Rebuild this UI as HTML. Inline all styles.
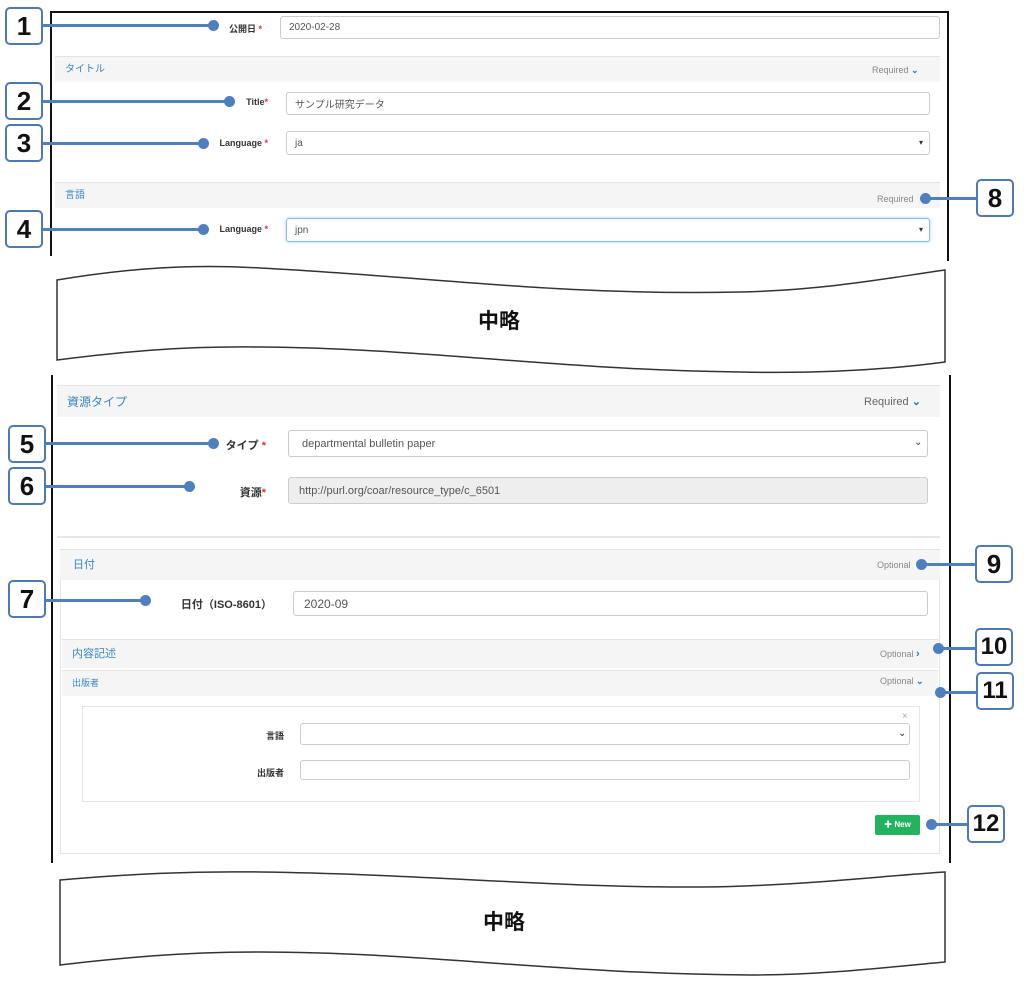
<!DOCTYPE html>
<html><head><meta charset="utf-8">
<style>
*{margin:0;padding:0;box-sizing:border-box}
body{width:1024px;height:987px;background:#fff;position:relative;overflow:hidden;font-family:"Liberation Sans","Noto Sans CJK JP",sans-serif;color:#333}
.a{position:absolute}
.hdr{position:absolute;background:#f5f5f5;border-top:1px solid #e3e3e3;color:#3a87c0;font-size:10px;padding-left:10px}
.inp{position:absolute;border:1px solid #ccc;border-radius:3px;background:#fff;font-size:10px;color:#555;padding-left:8px;display:flex;align-items:center}
.lbl{position:absolute;font-size:9px;font-weight:bold;color:#333;text-align:right}
.st{color:#d33}
.req{position:absolute;font-size:9px;color:#888}
.box{position:absolute;width:38px;height:38px;border:2.5px solid #4e79b6;border-radius:5px;background:#fff;font-size:26px;font-weight:bold;color:#111;display:flex;align-items:center;justify-content:center}
.ln{position:absolute;height:3px;background:#4e7fbf}
.dot{position:absolute;width:11px;height:11px;border-radius:50%;background:#4e7fbf}
.car{position:absolute;font-size:8px;color:#333}
</style></head><body>

<!-- frame top -->
<div class="a" style="left:50px;top:11px;width:899px;height:2px;background:#111"></div>
<div class="a" style="left:50px;top:11px;width:2px;height:245px;background:#111"></div>
<div class="a" style="left:947px;top:11px;width:2px;height:250px;background:#111"></div>

<div class="lbl" style="left:200px;top:22px;width:62px">公開日 <span class="st">*</span></div>
<div class="inp" style="left:280px;top:16px;width:660px;height:23px">2020-02-28</div>

<div class="hdr" style="left:55px;top:56px;width:885px;height:26px;line-height:26px">タイトル</div>
<div class="req" style="left:872px;top:65px">Required <span style="color:#2a7ab8;font-weight:bold">⌄</span></div>
<div class="lbl" style="left:200px;top:97px;width:68px">Title<span class="st">*</span></div>
<div class="inp" style="left:286px;top:92px;width:644px;height:23px">サンプル研究データ</div>
<div class="lbl" style="left:200px;top:138px;width:68px">Language <span class="st">*</span></div>
<div class="inp" style="left:286px;top:131px;width:644px;height:24px">ja</div>
<div class="car" style="left:919px;top:138px">▾</div>

<div class="hdr" style="left:55px;top:182px;width:885px;height:26px;line-height:26px">言語</div>
<div class="req" style="left:877px;top:194px">Required</div>
<div class="lbl" style="left:200px;top:224px;width:68px">Language <span class="st">*</span></div>
<div class="inp" style="left:286px;top:218px;width:644px;height:24px;border-color:#8bbbe8;box-shadow:0 0 3px #a8cff0">jpn</div>
<div class="car" style="left:919px;top:225px">▾</div>

<!-- wave 1 -->
<svg class="a" style="left:0;top:0" width="1024" height="987">
<path d="M57,280 C130,268 190,264 260,268 C420,276 560,296 740,292 C830,290 900,276 945,270 L945,362 C900,368 830,374 740,372 C560,370 420,348 260,347 C180,346 120,352 57,360 Z" fill="#fff" stroke="#333" stroke-width="1.5"/>
<path d="M60,880 C130,874 190,871 260,872 C420,874 560,888 700,887 C800,886 880,876 945,872 L945,962 C880,968 820,975 750,975 C560,974 420,952 260,952 C180,952 120,958 60,965 Z" fill="#fff" stroke="#333" stroke-width="1.5"/>
</svg>
<div class="a" style="left:478px;top:305px;font-size:21px;font-weight:bold;color:#111">中略</div>
<div class="a" style="left:483px;top:906px;font-size:21px;font-weight:bold;color:#111">中略</div>

<!-- frame 2 -->
<div class="a" style="left:51px;top:375px;width:2px;height:488px;background:#111"></div>
<div class="a" style="left:949px;top:375px;width:2px;height:488px;background:#111"></div>

<div class="hdr" style="left:57px;top:385px;width:883px;height:32px;line-height:32px;font-size:12px">資源タイプ</div>
<div class="req" style="left:864px;top:395px;font-size:11px;color:#666">Required <span style="color:#2a7ab8;font-weight:bold">⌄</span></div>
<div class="lbl" style="left:200px;top:437px;width:66px;font-size:11px">タイプ <span class="st">*</span></div>
<div class="inp" style="left:288px;top:430px;width:640px;height:27px;font-size:11px;padding-left:13px">departmental bulletin paper</div>
<div class="car" style="left:914px;top:437px;font-size:10px">⌄</div>
<div class="lbl" style="left:200px;top:484px;width:66px;font-size:11px">資源<span class="st">*</span></div>
<div class="inp" style="left:288px;top:477px;width:640px;height:27px;font-size:11px;background:#eee;padding-left:10px">http://purl.org/coar/resource_type/c_6501</div>
<div class="a" style="left:57px;top:536px;width:883px;height:2px;background:#e6e6e6"></div>

<div class="a" style="left:60px;top:549px;width:880px;height:305px;border:1px solid #e3e3e3"></div>
<div class="hdr" style="left:60px;top:549px;width:880px;height:31px;line-height:31px;font-size:11px;padding-left:13px">日付</div>
<div class="req" style="left:877px;top:560px">Optional</div>
<div class="lbl" style="left:150px;top:596px;width:122px;font-size:11px">日付（ISO-8601）</div>
<div class="inp" style="left:293px;top:591px;width:635px;height:25px;font-size:12px;padding-left:10px">2020-09</div>

<div class="hdr" style="left:62px;top:639px;width:876px;height:29px;line-height:29px;font-size:11px">内容記述</div>
<div class="req" style="left:880px;top:648px">Optional <span style="color:#2a7ab8;font-weight:bold;font-size:11px">›</span></div>
<div class="hdr" style="left:62px;top:670px;width:876px;height:26px;line-height:24px;font-size:9px">出版者</div>
<div class="req" style="left:880px;top:676px">Optional <span style="color:#2a7ab8;font-weight:bold">⌄</span></div>

<div class="a" style="left:82px;top:706px;width:838px;height:96px;border:1px solid #e6e6e6"></div>
<div class="a" style="left:902px;top:711px;font-size:10px;color:#aaa">×</div>
<div class="lbl" style="left:240px;top:729px;width:44px">言語</div>
<div class="inp" style="left:300px;top:723px;width:610px;height:22px"></div>
<div class="car" style="left:898px;top:728px;font-size:10px">⌄</div>
<div class="lbl" style="left:240px;top:766px;width:44px">出版者</div>
<div class="inp" style="left:300px;top:760px;width:610px;height:20px"></div>
<div class="a" style="left:875px;top:815px;width:45px;height:20px;background:#23b25d;border-radius:2px;color:#fff;font-size:8px;font-weight:bold;line-height:20px;text-align:center">✚ New</div>

<!-- callouts -->
<div class="ln" style="left:43px;top:24px;width:172px"></div><div class="dot" style="left:208px;top:20px"></div>
<div class="ln" style="left:43px;top:100px;width:188px"></div><div class="dot" style="left:224px;top:96px"></div>
<div class="ln" style="left:43px;top:142px;width:162px"></div><div class="dot" style="left:198px;top:138px"></div>
<div class="ln" style="left:43px;top:228px;width:162px"></div><div class="dot" style="left:198px;top:224px"></div>
<div class="ln" style="left:925px;top:197px;width:52px"></div><div class="dot" style="left:920px;top:193px"></div>
<div class="ln" style="left:46px;top:442px;width:169px"></div><div class="dot" style="left:208px;top:438px"></div>
<div class="ln" style="left:46px;top:485px;width:145px"></div><div class="dot" style="left:184px;top:481px"></div>
<div class="ln" style="left:46px;top:599px;width:101px"></div><div class="dot" style="left:140px;top:595px"></div>
<div class="ln" style="left:921px;top:563px;width:56px"></div><div class="dot" style="left:916px;top:559px"></div>
<div class="ln" style="left:938px;top:647px;width:39px"></div><div class="dot" style="left:933px;top:643px"></div>
<div class="ln" style="left:940px;top:691px;width:38px"></div><div class="dot" style="left:935px;top:687px"></div>
<div class="ln" style="left:931px;top:823px;width:38px"></div><div class="dot" style="left:926px;top:819px"></div>

<div class="box" style="left:5px;top:7px">1</div>
<div class="box" style="left:5px;top:82px">2</div>
<div class="box" style="left:5px;top:124px">3</div>
<div class="box" style="left:5px;top:210px">4</div>
<div class="box" style="left:976px;top:179px">8</div>
<div class="box" style="left:8px;top:425px">5</div>
<div class="box" style="left:8px;top:467px">6</div>
<div class="box" style="left:8px;top:580px">7</div>
<div class="box" style="left:975px;top:545px">9</div>
<div class="box" style="left:975px;top:628px;font-size:24px">10</div>
<div class="box" style="left:976px;top:672px;font-size:24px">11</div>
<div class="box" style="left:967px;top:805px;font-size:24px">12</div>
</body></html>
